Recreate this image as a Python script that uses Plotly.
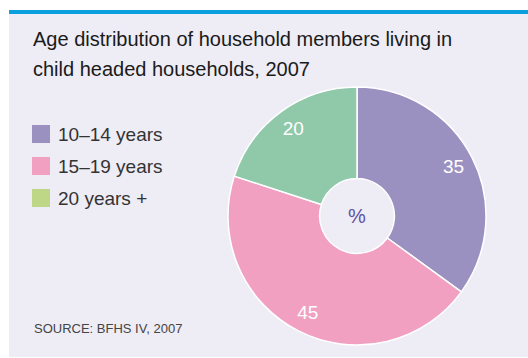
import plotly.graph_objects as go

# Age groups and their share (%) of members in child headed households
categories = ["10–14 years", "15–19 years", "20 years +"]
shares = [35, 45, 20]
slice_colors = ["#9b91c1", "#f1a0c1", "#8fc9aa"]
legend_colors = ["#9b91c1", "#f1a0c1", "#bdd787"]

title_lines = ["Age distribution of household members living in",
               "child headed households, 2007"]
source_text = "SOURCE: BFHS IV, 2007"

W, H = 528, 358
BG = "#eeecf5"

fig = go.Figure()

pie_domain = dict(x=[228 / W, 486 / W], y=[13 / H, 271 / H])

# Coloured donut
fig.add_trace(go.Pie(
    labels=categories, values=shares, sort=False, direction="clockwise",
    rotation=0, hole=0.29, domain=pie_domain,
    marker=dict(colors=slice_colors, line=dict(color="white", width=1.5)),
    textinfo="none", hoverinfo="skip", showlegend=False,
))

# Transparent ring on top carrying the value labels near the rim
fig.add_trace(go.Pie(
    labels=categories, values=shares, sort=False, direction="clockwise",
    rotation=0, hole=0.68, domain=pie_domain,
    marker=dict(colors=["rgba(0,0,0,0)"] * len(shares), line=dict(width=0)),
    textinfo="value", textposition="inside", insidetextorientation="horizontal",
    textfont=dict(color="white", size=19, family="Liberation Sans"),
    hoverinfo="skip", showlegend=False,
))

shapes = [
    # panel
    dict(type="rect", xref="paper", yref="paper", x0=9 / W, x1=1, y0=1 / H, y1=1 - 10 / H,
         fillcolor=BG, line=dict(width=0), layer="below"),
    # top rule
    dict(type="rect", xref="paper", yref="paper", x0=9 / W, x1=1, y0=1 - 14 / H, y1=1 - 10 / H,
         fillcolor="#0aa0de", line=dict(width=0), layer="below"),
]

annotations = []
for i, line in enumerate(title_lines):
    annotations.append(dict(
        text=line, xref="paper", yref="paper", x=31 / W, y=1 - (39 + i * 30) / H,
        xanchor="left", yanchor="middle", showarrow=False,
        font=dict(family="Liberation Sans", size=20, color="#1a1a1a"),
    ))

# Legend: swatch plus label for each age group
for i, (name, col) in enumerate(zip(categories, legend_colors)):
    yc = 134 + i * 32
    shapes.append(dict(type="rect", xref="paper", yref="paper",
                       x0=32 / W, x1=50 / W, y0=1 - (yc + 9) / H, y1=1 - (yc - 9) / H,
                       fillcolor=col, line=dict(width=0)))
    annotations.append(dict(
        text=name, xref="paper", yref="paper", x=56 / W, y=1 - yc / H,
        xanchor="left", yanchor="middle", showarrow=False,
        font=dict(family="Liberation Sans", size=19, color="#333333"),
    ))

# Unit in the donut hole
annotations.append(dict(
    text="%", xref="paper", yref="paper", x=357 / W, y=1 - 216 / H,
    xanchor="center", yanchor="middle", showarrow=False,
    font=dict(family="Liberation Sans", size=20, color="#5e52a3"),
))

annotations.append(dict(
    text=source_text, xref="paper", yref="paper", x=32 / W, y=1 - 328 / H,
    xanchor="left", yanchor="middle", showarrow=False,
    font=dict(family="Liberation Sans", size=13, color="#444444"),
))

fig.update_layout(
    width=W, height=H, margin=dict(l=0, r=0, t=0, b=0),
    paper_bgcolor="white", plot_bgcolor="white",
    shapes=shapes, annotations=annotations, showlegend=False,
)

fig.write_html("out.html")
